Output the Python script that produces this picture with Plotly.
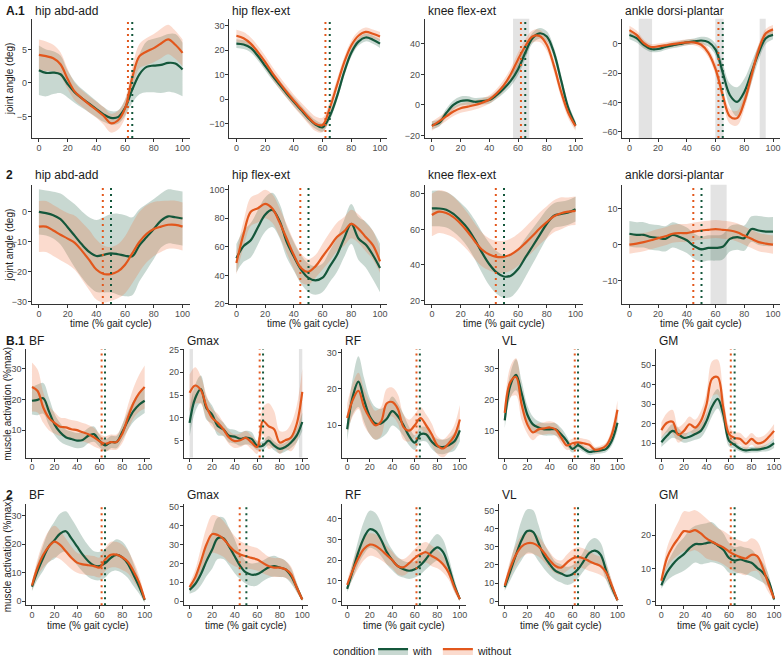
import plotly.graph_objects as go

X = list(range(0, 101, 5))

# ---------------- A.1 joint angles ----------------
a1_hipabd_with_mean = [1.9,1.5,1.55,1.3,-0.15,-1.4,-2.3,-3.1,-3.9,-4.7,-5.2,-5.1,-3.7,-1.0,1.3,2.4,2.6,2.7,3.0,2.9,2.0]
a1_hipabd_with_sd = [3.7,3.5,3.2,2.8,2.0,1.6,1.4,1.3,1.2,1.1,1.0,1.0,1.2,2.0,3.0,3.8,4.0,4.2,4.3,4.4,4.0]
a1_hipabd_without_mean = [4.2,4.0,3.7,2.8,0.6,-1.3,-2.3,-3.2,-4.0,-4.9,-6.0,-5.6,-3.8,0.8,4.0,4.7,5.2,5.9,6.5,5.7,4.5]
a1_hipabd_without_sd = [2.3,2.2,2.0,1.8,1.5,1.3,1.2,1.2,1.2,1.3,1.4,1.4,1.4,1.6,1.8,2.0,2.1,2.2,2.2,2.1,2.0]

a1_hipflex_with_mean = [22.7,22.3,20.9,17.6,13.6,9.6,5.9,2.3,-1.1,-4.4,-7.7,-10.4,-11.6,-7.0,1.0,11.0,19.0,23.5,25.2,24.3,22.7]
a1_hipflex_with_sd = [1.8,1.8,1.8,1.8,1.8,1.8,1.8,1.8,1.8,1.8,1.8,1.8,1.8,1.8,1.8,1.8,1.7,1.6,1.6,1.7,1.8]
a1_hipflex_without_mean = [25.9,24.9,22.7,19.2,15.2,10.7,6.7,2.9,-0.7,-4.0,-7.3,-10.1,-10.6,-3.7,5.6,14.9,21.9,25.9,27.5,26.7,25.6]
a1_hipflex_without_sd = [2.5,2.5,2.5,2.5,2.5,2.5,2.5,2.5,2.5,2.6,2.8,3.0,3.0,2.8,2.5,2.2,2.0,1.8,1.8,1.8,1.8]

a1_knee_with_mean = [-13.2,-11.8,-5.3,0.0,2.6,3.0,2.1,2.6,3.2,6.4,10.7,16.0,23.5,34.2,43.8,47.0,44.9,34.2,16.0,-2.1,-13.2]
a1_knee_with_sd = [2.5,2.5,2.8,3,3,2.8,2.5,2.3,2.3,2.5,3,3.5,4,4,3.5,3.5,3.5,3.5,3.5,3,2.5]
a1_knee_without_mean = [-13.9,-10.7,-7.5,-4.3,-2.1,-1.1,0.0,1.5,3.6,7.5,12.8,20.3,29.9,38.5,44.9,45.3,39.5,25.6,8.5,-5.3,-13.9]
a1_knee_without_sd = [3,3,3,3,3,3,3,2.8,2.8,3,3.5,4,4.5,4.5,4,4,4,4,4,3.5,3]

a1_ankle_with_mean = [6.0,3.8,-0.7,-3.6,-3.6,-2.2,-1.1,-0.2,0.9,1.6,2.2,1.1,-4.0,-19.6,-35.1,-39.6,-32.9,-19.6,-6.2,3.8,6.0]
a1_ankle_with_sd = [3,3,2.5,2,2,2,2,2,2,2,2.5,3,4,6,8,10,9,7,5,4,3]
a1_ankle_without_mean = [9.3,6.0,0.4,-2.2,-1.8,-1.1,-0.2,0.4,0.9,0.9,-0.7,-6.2,-17.3,-35.1,-49.6,-50.7,-39.6,-21.8,-4.0,7.1,9.8]
a1_ankle_without_sd = [3,3,2.5,2,2,2,2,2,2,2,2.5,3,4,5,5,5,5,5,4,3,3]

# ---------------- A.2 joint angles ----------------
a2_hipabd_with_mean = [0.0,-0.4,-1.1,-2.4,-5.1,-8.0,-10.9,-13.3,-14.7,-14.3,-13.8,-14.1,-14.6,-14.8,-11.1,-8.4,-5.7,-2.9,-1.5,-1.8,-2.2]
a2_hipabd_with_sd = [7.5,7.5,7.8,8.5,9.5,10.5,11,11.5,12,12.5,13,13.5,13.5,13,12,11,10,9,9,9,9]
a2_hipabd_without_mean = [-4.9,-4.9,-6.2,-7.6,-8.9,-10.3,-13.0,-16.0,-19.2,-20.7,-20.7,-19.8,-17.6,-13.8,-10.0,-7.3,-5.7,-4.9,-4.3,-4.3,-4.9]
a2_hipabd_without_sd = [8.5,8.5,8.5,8.5,8.5,9,9.5,10,10,9.5,9,9,9.5,10,10,9.5,9,8.5,8,8,8]

a2_hipflex_with_mean = [52.0,60.5,64.6,73.7,82.5,85.8,78.3,63.5,53.2,44.1,38.4,36.5,38.4,46.3,54.3,65.8,76.0,65.8,61.6,54.3,45.2]
a2_hipflex_with_sd = [10,11,12,12,12,12,12,11,10,10,10,10,10,11,12,13,14,15,16,17,17]
a2_hipflex_without_mean = [48.6,69.0,84.5,87.0,90.0,86.8,77.2,65.8,54.3,45.2,42.5,46.3,53.2,60.0,66.9,70.8,76.0,72.6,66.9,61.2,49.8]
a2_hipflex_without_sd = [8,9,10,10,10,10,10,10,10,10,9,8,9,10,10,10,10,10,10,10,8]

a2_knee_with_mean = [71.8,71.8,71.1,68.7,65.0,60.5,54.1,46.8,40.4,35.8,33.5,34.0,37.7,44.1,50.4,56.8,63.2,67.8,68.7,69.6,71.4]
a2_knee_with_sd = [10,10,10,10,10,10.5,11,11.5,12,12,12,12,11.5,11,10,9,8,7,7,7,7]
a2_knee_without_mean = [68.1,70.0,69.2,66.9,63.2,58.6,53.2,48.6,45.9,44.6,44.6,45.9,48.6,52.3,56.3,60.5,64.1,67.4,69.1,70.0,70.5]
a2_knee_without_sd = [12,12,12,11.5,11,10.5,10,9.5,9,9,9,9,9,9,9,9,9,9,9,8,8]

a2_ankle_with_mean = [3.0,2.7,2.7,2.1,1.9,1.6,2.7,2.1,1.2,-0.4,-1.3,-0.9,-0.9,-0.6,1.6,2.1,1.8,4.3,3.9,3.6,3.6]
a2_ankle_with_sd = [3.5,3.5,3.5,3.5,3.5,3.5,3.5,3.5,3.5,3.5,3.5,3.5,3.5,3.5,3.5,3.5,3.5,3.5,4,4,4]
a2_ankle_without_mean = [0.0,0.3,0.7,1.2,1.8,2.3,3.0,3.2,3.2,3.6,3.9,4.1,4.3,4.1,3.9,3.4,2.5,1.6,0.7,0.3,0.0]
a2_ankle_without_sd = [2.5,2.5,2.5,2.5,2.5,2.5,2.5,2.5,2.5,2.5,2.5,2.5,2.5,2.5,2.5,2.5,2.5,2.5,2.5,2.5,2.5]

# ---------------- B.1 muscle activation ----------------
b1_bf_with_mean = [19.6,19.9,20.4,16.2,11.9,9.3,7.7,7.1,6.6,6.8,8.2,8.7,6.5,5.0,6.1,6.1,9.3,13.0,16.2,18.3,19.6]
b1_bf_with_sd = [4.5,5,5,4.5,3.5,3,2.5,2.5,2.5,2.5,2.5,2.5,2,2,2,2,2.5,3,3.5,4,4]
b1_bf_without_mean = [24.1,22.8,17.4,14.0,12.4,11.1,10.9,10.3,10.0,9.3,8.7,7.7,6.4,5.5,6.1,6.1,8.7,14.0,18.8,22.0,24.1]
b1_bf_without_sd = [8,7,5,4,3.5,3,3,3,3,3,3,3,2.5,2.5,2.5,2.5,3,4,5,6,7]

b1_gmax_with_mean = [8.9,14.3,16.3,12.1,10.7,8.2,7.5,6.1,5.9,5.4,5.7,5.4,3.9,3.9,5.0,3.9,3.2,3.6,4.6,6.1,9.1]
b1_gmax_with_sd = [3,3,3,2.5,2,2,1.5,1.5,1.5,1.5,1.5,1.5,1,1,1,1,1,1,1.2,1.5,2]
b1_gmax_without_mean = [15.5,17.1,16.1,12.5,10.0,8.9,7.5,5.7,4.9,5.1,5.6,4.6,3.6,9.3,8.2,7.5,4.6,5.1,5.7,8.6,15.7]
b1_gmax_without_sd = [4,4,3,2.5,2,2,1.5,1.5,1.5,1.5,1.5,1.5,1.5,3,5,4,2.5,2,3,4,5]

b1_rf_with_mean = [8.9,18.0,22.0,17.0,12.5,10.5,10.5,11.7,13.9,12.5,10.0,7.0,5.2,7.5,7.5,5.5,4.2,4.0,4.5,5.5,8.6]
b1_rf_with_sd = [3,5,7,6,5,4.5,4,4,4,3.5,3,2.5,2,2,2,2,2,2,2,2.5,3]
b1_rf_without_mean = [12.0,17.0,19.5,15.0,12.0,10.0,11.0,16.0,16.4,14.5,9.5,8.5,10.0,12.0,10.0,7.5,4.5,3.6,5.0,7.0,11.6]
b1_rf_without_sd = [4,4.5,5,5,4.5,4,4,4,4,4,3.5,3,3,3,3,3,2.5,2.5,2.5,3,4]

b1_vl_with_mean = [13.4,24.7,28.1,22.1,15.3,12.1,11.1,10.5,10.5,10.5,8.9,6.8,4.2,5.3,4.2,3.2,3.5,3.7,4.2,6.8,12.6]
b1_vl_with_sd = [2.5,4,5,4,3,2.5,2,2,2,2,2,1.5,1.2,1.2,1,1,1,1,1,1.5,2.5]
b1_vl_without_mean = [15.8,25.8,27.4,18.4,12.1,9.5,10.5,10.8,11.1,10.5,7.9,5.3,6.0,6.3,6.0,5.5,3.9,4.2,5.3,8.9,16.8]
b1_vl_without_sd = [3,5,6,5,3,2.5,2,2,2,2,2,1.5,1.5,1.5,1.5,1.5,1,1,1,2,3]

b1_gm_with_mean = [10.5,13.8,16.3,14.7,12.7,13.3,14.7,16.3,21.3,28.8,32.7,24.7,11.3,9.2,7.2,6.3,6.7,6.7,7.2,8.0,10.0]
b1_gm_with_sd = [2.5,3,3.5,3,2.5,2.5,3,3.5,4,5,5,4.5,3,2,1.5,1.5,1.5,1.5,1.5,2,2.5]
b1_gm_without_mean = [16.7,20.5,21.0,14.3,16.3,19.7,18.0,21.3,29.7,43.0,43.8,28.0,14.7,12.7,12.2,9.7,12.2,10.0,10.5,13.0,16.3]
b1_gm_without_sd = [4,5,6,4,4,4,4,5,6,9,9,7,4,3,3,3,3,3,3,3,3.5]

# ---------------- B.2 muscle activation ----------------
b2_bf_with_mean = [5.1,10.6,15.2,19.2,21.4,23.7,24.5,22.0,19.2,16.3,14.0,12.5,12.3,13.3,15.2,16.2,15.4,13.2,9.3,5.2,0.4]
b2_bf_with_sd = [1.5,3,4.5,5.5,6.5,7,7,7,6.5,6,5.5,5,5,5,5,5.5,5.5,5,4,2.5,1]
b2_bf_without_mean = [5.5,11.8,16.3,19.2,20.9,19.7,17.5,15.2,13.5,12.9,12.6,12.3,11.8,14.6,16.3,16.3,15.4,13.8,10.6,6.6,0.6]
b2_bf_without_sd = [1.5,3,4.5,5.5,5.5,5,4.5,4,3.5,3.5,3.5,3.5,3.5,4,4.5,4.5,4.5,4,3.5,2.5,1]

b2_gmax_with_mean = [6.0,9.1,14.3,21.2,27.2,33.3,33.3,29.0,23.8,18.6,15.2,14.0,14.3,16.0,17.8,18.6,17.8,16.9,13.4,7.4,0.9]
b2_gmax_with_sd = [2,4,6,8,10,11,11,10,9,7,6,6,6,5.5,5.5,5.5,5,4.5,4,2.5,1]
b2_gmax_without_mean = [7.4,12.6,21.0,30.0,35.5,35.0,33.0,29.5,26.5,24.7,23.8,22.9,22.1,20.3,18.6,17.8,17.8,16.9,14.3,7.4,0.9]
b2_gmax_without_sd = [2,4,7,9,10,10,9.5,9,8,7,6.5,6,6,5.5,5,5,5,4.5,4,2.5,1]

b2_rf_with_mean = [6.0,15.0,24.0,31.0,35.0,34.0,30.0,24.0,20.0,17.0,15.5,14.8,15.5,17.5,20.5,24.0,26.2,24.0,17.0,8.0,1.0]
b2_rf_with_sd = [1.5,4,6,8,9,9,8,6,5,4.5,4,4,4,4.5,5,6,6.5,6,4.5,3,1]
b2_rf_without_mean = [8.0,15.0,21.0,25.5,27.5,27.0,25.0,22.5,20.0,17.0,16.5,18.5,21.0,22.8,23.8,22.0,20.5,18.0,14.0,7.0,1.0]
b2_rf_without_sd = [2,4,5,5.5,5.5,5.5,5,4.5,4,4,4,4,4.5,5,5,5,4.5,4,3.5,2.5,1]

b2_vl_with_mean = [7.7,16.7,25.7,33.8,38.7,38.3,32.0,24.8,20.3,16.7,15.3,14.0,14.9,17.6,22.1,26.6,27.9,25.7,16.7,7.7,0.5]
b2_vl_with_sd = [2,5,8,11,12,12,10,7,6,5,5,5,5,5,5.5,6.5,7,6.5,5,3,1]
b2_vl_without_mean = [8.6,18.5,25.7,30.2,32.0,32.0,30.2,26.6,22.5,19.4,18.5,21.2,23.6,24.3,23.6,22.1,20.7,19.4,15.8,8.6,0.5]
b2_vl_without_sd = [2,4.5,5.5,6,6,6,5.5,5,4.5,4,4,4.5,5,5.5,5.5,5.5,5,5,4,3,1]

b2_gm_with_mean = [4.9,8.8,11.2,13.0,14.3,16.1,17.3,17.3,17.6,17.9,16.9,15.6,13.2,12.4,12.7,12.2,11.7,10.2,8.8,6.3,0.7]
b2_gm_with_sd = [1,2.5,3.5,4.5,5,5.5,5.5,6,6,6,5.5,5,4.5,4,4,4,4,3.5,3,2,0.5]
b2_gm_without_mean = [6.3,13.2,16.6,19.0,21.2,21.0,21.5,20.5,19.0,18.0,17.1,16.3,15.1,14.1,13.4,13.0,14.1,13.7,10.2,5.4,1.0]
b2_gm_without_sd = [1,3,4,5,6,6,6,6,6,5.5,5,5,5,5,5,5,5,4.5,4,2.5,0.5]

# toe-off (% gait cycle) per panel and significant regions
toe_off_with = [65, 65, 65, 65, 50.2, 50.2, 50.2, 50.2, 64.8, 65.2, 64.5, 65, 65, 64.8, 50.4, 64.5, 65, 65]
toe_off_without = [62, 62, 62, 62, 44.5, 44.5, 44.5, 44.5, 61.8, 62.2, 61.5, 62.1, 61.6, 61.8, 44.5, 61.5, 62.1, 61.6]
sig_regions = [[], [], [[56.5, 67.8]], [[6.5, 15.8], [59.8, 65.6], [90.7, 94.9]],
               [], [], [], [[56.5, 67.7]],
               [], [[0, 3], [97, 100]], [], [], [],
               [], [], [], [], []]

panel_titles = ["hip abd-add", "hip flex-ext", "knee flex-ext", "ankle dorsi-plantar",
                "hip abd-add", "hip flex-ext", "knee flex-ext", "ankle dorsi-plantar",
                "BF", "Gmax", "RF", "VL", "GM",
                "BF", "Gmax", "RF", "VL", "GM"]
row_tags = ["A.1", "2", "B.1", "2"]
x_ticks = [0, 20, 40, 60, 80, 100]

series = [
    (a1_hipabd_with_mean, a1_hipabd_with_sd, a1_hipabd_without_mean, a1_hipabd_without_sd),
    (a1_hipflex_with_mean, a1_hipflex_with_sd, a1_hipflex_without_mean, a1_hipflex_without_sd),
    (a1_knee_with_mean, a1_knee_with_sd, a1_knee_without_mean, a1_knee_without_sd),
    (a1_ankle_with_mean, a1_ankle_with_sd, a1_ankle_without_mean, a1_ankle_without_sd),
    (a2_hipabd_with_mean, a2_hipabd_with_sd, a2_hipabd_without_mean, a2_hipabd_without_sd),
    (a2_hipflex_with_mean, a2_hipflex_with_sd, a2_hipflex_without_mean, a2_hipflex_without_sd),
    (a2_knee_with_mean, a2_knee_with_sd, a2_knee_without_mean, a2_knee_without_sd),
    (a2_ankle_with_mean, a2_ankle_with_sd, a2_ankle_without_mean, a2_ankle_without_sd),
    (b1_bf_with_mean, b1_bf_with_sd, b1_bf_without_mean, b1_bf_without_sd),
    (b1_gmax_with_mean, b1_gmax_with_sd, b1_gmax_without_mean, b1_gmax_without_sd),
    (b1_rf_with_mean, b1_rf_with_sd, b1_rf_without_mean, b1_rf_without_sd),
    (b1_vl_with_mean, b1_vl_with_sd, b1_vl_without_mean, b1_vl_without_sd),
    (b1_gm_with_mean, b1_gm_with_sd, b1_gm_without_mean, b1_gm_without_sd),
    (b2_bf_with_mean, b2_bf_with_sd, b2_bf_without_mean, b2_bf_without_sd),
    (b2_gmax_with_mean, b2_gmax_with_sd, b2_gmax_without_mean, b2_gmax_without_sd),
    (b2_rf_with_mean, b2_rf_with_sd, b2_rf_without_mean, b2_rf_without_sd),
    (b2_vl_with_mean, b2_vl_with_sd, b2_vl_without_mean, b2_vl_without_sd),
    (b2_gm_with_mean, b2_gm_with_sd, b2_gm_without_mean, b2_gm_without_sd),
]

# ---------------- layout geometry (pixels) ----------------
W, H = 784, 666
y_ranges = [[-8.2, 9.6], [-15.9, 32.9], [-21.6, 56.6], [-64.2, 17.1],
            [-30.7, 9.0], [19.9, 103.4], [18.0, 85.1], [-16.4, 16.5],
            [1.05, 36.5], [1.3, 25.1], [1.1, 31.0], [1.4, 36.4], [2.65, 58.2],
            [-1.4, 33.9], [-2.1, 51.2], [-1.9, 47.0], [-2.2, 53.4], [-1.0, 29.2]]
y_dticks = [5, 10, 20, 20, 10, 20, 20, 10, 10, 5, 10, 10, 10, 10, 10, 10, 10, 10]
row_of = [0]*4 + [1]*4 + [2]*5 + [3]*5
col_left_A = [31.8, 229.8, 425.8, 623.8]
col_left_B = [26.4, 184.4, 342.4, 500.4, 657.4]
w_A, w_B = 158.4, 124.3
row_y = [(15, 137), (185, 307), (353, 464), (512, 615)]
title_y = [7, 175, 345, 502]
legend_y = 662

C_WITH = "#14573b"
C_WITHOUT = "#e2571c"
F_WITH = "rgba(27,94,64,0.24)"
F_WITHOUT = "rgba(240,110,60,0.25)"
FONT = "Liberation Sans, Arial, sans-serif"
TICKFONT = dict(size=9, color="#4d4d4d")

fig = go.Figure()
layout = dict(width=W, height=H, margin=dict(l=0, r=0, t=0, b=0),
              plot_bgcolor="white", paper_bgcolor="white",
              font=dict(family=FONT, size=10, color="#4d4d4d"),
              showlegend=True)
shapes, annotations = [], []

col_counter = {0: 0, 1: 0, 2: 0, 3: 0}
for i, (wm, ws, om, osd) in enumerate(series):
    r = row_of[i]
    c = col_counter[r]
    col_counter[r] += 1
    if r < 2:
        x0 = col_left_A[c]; w = w_A
    else:
        x0 = col_left_B[c]; w = w_B
    y_top, y_bot = row_y[r]
    sfx = "" if i == 0 else str(i + 1)
    xa, ya = "x" + sfx, "y" + sfx
    layout["xaxis" + sfx] = dict(domain=[x0 / W, (x0 + w) / W], anchor=ya, range=[-5, 105],
                                 tickvals=x_ticks, showline=True, linecolor="#333", linewidth=1,
                                 ticks="outside", ticklen=3, tickcolor="#333", showgrid=False,
                                 zeroline=False, tickfont=TICKFONT, ticklabelstandoff=-2)
    layout["yaxis" + sfx] = dict(domain=[1 - y_bot / H, 1 - y_top / H], anchor=xa, range=y_ranges[i],
                                 dtick=y_dticks[i], showline=True, linecolor="#333", linewidth=1,
                                 ticks="outside", ticklen=3, tickcolor="#333", showgrid=False,
                                 zeroline=False, tickfont=TICKFONT, ticklabelstandoff=-1)
    # ribbons
    for m, s, fc in ((wm, ws, F_WITH), (om, osd, F_WITHOUT)):
        up = [a + b for a, b in zip(m, s)]
        lo = [a - b for a, b in zip(m, s)]
        fig.add_trace(go.Scatter(x=X, y=up, xaxis=xa, yaxis=ya, mode="lines",
                                 line=dict(width=0, shape="spline", smoothing=1),
                                 showlegend=False, hoverinfo="skip"))
        fig.add_trace(go.Scatter(x=X, y=lo, xaxis=xa, yaxis=ya, mode="lines", fill="tonexty",
                                 fillcolor=fc, line=dict(width=0, shape="spline", smoothing=1),
                                 showlegend=False, hoverinfo="skip"))
    for m, lc in ((wm, C_WITH), (om, C_WITHOUT)):
        fig.add_trace(go.Scatter(x=X, y=m, xaxis=xa, yaxis=ya, mode="lines",
                                 line=dict(color=lc, width=2.2, shape="spline", smoothing=1),
                                 showlegend=False))
    for a, b in sig_regions[i]:
        shapes.append(dict(type="rect", xref=xa, yref=ya + " domain", x0=a, x1=b, y0=0, y1=1,
                           fillcolor="#e3e3e3", line=dict(width=0), layer="below"))
    for v, lc in ((toe_off_without[i], C_WITHOUT), (toe_off_with[i], C_WITH)):
        shapes.append(dict(type="line", xref=xa, yref=ya + " domain", x0=v, x1=v, y0=0, y1=1,
                           line=dict(color=lc, width=2, dash="2px,4px")))
    annotations.append(dict(text=panel_titles[i], xref="paper", yref="paper",
                            x=(x0 + 1) / W, y=1 - title_y[r] / H, xanchor="left", yanchor="middle",
                            showarrow=False, font=dict(size=12, color="#1a1a1a")))
    if r in (1, 3):
        annotations.append(dict(text="time (% gait cycle)", xref="paper", yref="paper",
                                x=(x0 + w / 2) / W, y=1 - (326.5 if r == 1 else 635.5) / H,
                                xanchor="center", yanchor="middle", showarrow=False,
                                font=dict(size=10, color="#1a1a1a")))

for r, tag in enumerate(row_tags):
    annotations.append(dict(text=f"<b>{tag}</b>", xref="paper", yref="paper", x=4 / W,
                            y=1 - title_y[r] / H, xanchor="left", yanchor="middle",
                            showarrow=False, font=dict(size=12, color="#1a1a1a")))

for r, lab in ((0, "joint angle (deg)"), (1, "joint angle (deg)"),
               (2, "muscle activation (%max)"), (3, "muscle activation (%max)")):
    yt, yb = row_y[r]
    annotations.append(dict(text=lab, xref="paper", yref="paper", x=(9 if r < 2 else 7.5) / W,
                            y=1 - (yt + yb) / 2 / H, xanchor="center", yanchor="middle",
                            textangle=-90, showarrow=False, font=dict(size=10, color="#1a1a1a")))

# legend title as text next to the legend items
annotations.append(dict(text="condition", xref="paper", yref="paper", x=378 / W, y=1 - legend_y / H,
                        xanchor="right", yanchor="middle", showarrow=False,
                        font=dict(size=10.5, color="#1a1a1a")))

# legend entries
for name, lc, fc in (("with", C_WITH, F_WITH), ("without", C_WITHOUT, F_WITHOUT)):
    fig.add_trace(go.Scatter(x=[None], y=[None], mode="lines", name=name, fill="toself",
                             fillcolor=fc, line=dict(color=lc, width=2.2), xaxis="x", yaxis="y"))

layout["legend"] = dict(orientation="h", x=374 / W, xanchor="left", y=1 - legend_y / H, yanchor="middle",
                        traceorder="normal", font=dict(size=10.5, color="#1a1a1a"),
                        itemwidth=30, tracegroupgap=0, bgcolor="rgba(0,0,0,0)")
layout["shapes"] = shapes
layout["annotations"] = annotations
fig.update_layout(**layout)
fig.write_html("out.html")
